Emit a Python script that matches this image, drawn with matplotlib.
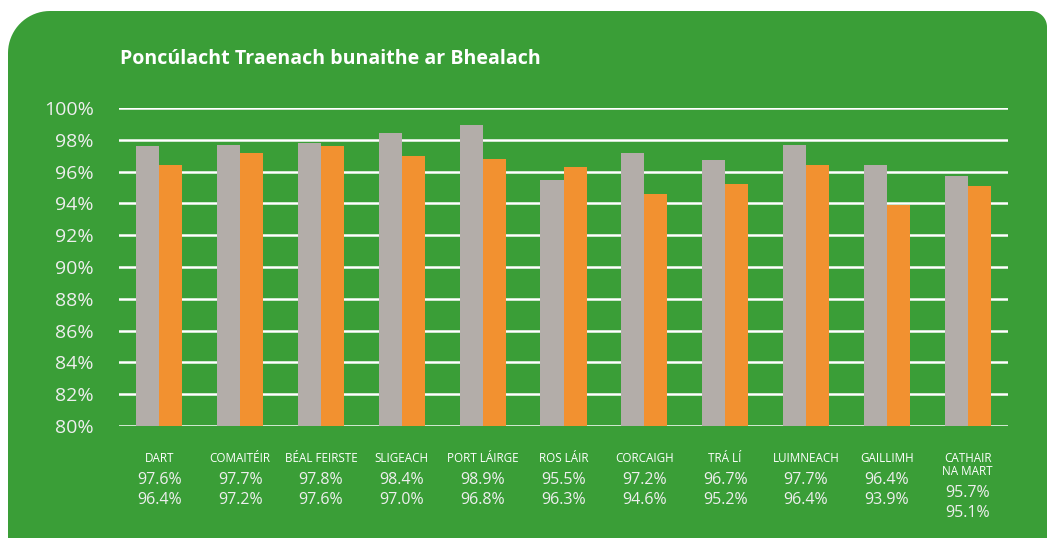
import numpy as np
import matplotlib.pyplot as plt
from matplotlib.path import Path
from matplotlib.patches import PathPatch

# data
stations = ["DART", "COMAITÉIR", "BÉAL FEIRSTE", "SLIGEACH", "PORT LÁIRGE", "ROS LÁIR",
            "CORCAIGH", "TRÁ LÍ", "LUIMNEACH", "GAILLIMH", "CATHAIR\nNA MART"]
grey_vals = [97.6, 97.7, 97.8, 98.4, 98.9, 95.5, 97.2, 96.7, 97.7, 96.4, 95.7]
orange_vals = [96.4, 97.2, 97.6, 97.0, 96.8, 96.3, 94.6, 95.2, 96.4, 93.9, 95.1]
yticks = [80, 82, 84, 86, 88, 90, 92, 94, 96, 98, 100]
title = "Poncúlacht Traenach bunaithe ar Bhealach"

GREEN = "#3a9e37"
GREY = "#b3ada9"
ORANGE = "#f29130"
W, H = 1048, 538

plt.rcParams['font.family'] = ['Open Sans', 'DejaVu Sans']

fig = plt.figure(figsize=(W / 100, H / 100), dpi=100, facecolor="white")

# green panel with a big rounded top-left corner and small top-right corner
def arc(cx, cy, r, a0, a1, n=20):
    t = np.linspace(np.radians(a0), np.radians(a1), n)
    return [(cx + r * np.cos(t_), cy + r * np.sin(t_)) for t_ in t]

x0, x1, ytop, ybot = 8, 1047, 11, 560
r1, r2 = 42, 16
pts = [(x0, ybot), (x0, ytop + r1)]
pts += arc(x0 + r1, ytop + r1, r1, 180, 270)
pts += [(x1 - r2, ytop)]
pts += arc(x1 - r2, ytop + r2, r2, 270, 360)
pts += [(x1, ybot), (x0, ybot)]
pts = [(px / W, 1 - py / H) for px, py in pts]
fig.patches.append(PathPatch(Path(pts), facecolor=GREEN, edgecolor="none",
                             transform=fig.transFigure, zorder=-1))

left, right, top, bottom = 119 / W, 1008 / W, 108 / H, 426 / H
ax = fig.add_axes([left, 1 - bottom, right - left, bottom - top])
ax.set_facecolor("none")
ax.set_zorder(2)

x = np.arange(len(stations))
bw = 0.285
ax.bar(x - bw / 2, np.array(grey_vals) - 80, bw, bottom=80, color=GREY, zorder=3)
ax.bar(x + bw / 2, np.array(orange_vals) - 80, bw, bottom=80, color=ORANGE, zorder=3)

ax.set_xlim(-0.5, len(stations) - 0.5)
ax.set_ylim(80, 100)
ax.set_yticks(yticks)
ax.set_yticklabels([f"{v}%" for v in yticks])
ax.tick_params(axis="y", length=0, pad=18, labelsize=14, labelcolor="#eeeeee")
ax.set_xticks([])
for s in ax.spines.values():
    s.set_visible(False)
ax.grid(axis="y", color="white", linewidth=1.8, zorder=1)

# category labels and values below axis
for i, name in enumerate(stations):
    nlines = name.count("\n")
    ax.annotate(name, (i, 0), xycoords=("data", "axes fraction"),
                xytext=(0, -32 - nlines * 7), textcoords="offset pixels",
                ha="center", va="center", fontsize=8.4, color="white",
                linespacing=1.0, annotation_clip=False)
    shift = nlines * 13
    ax.annotate(f"{grey_vals[i]:.1f}%", (i, 0), xycoords=("data", "axes fraction"),
                xytext=(0, -54 - shift), textcoords="offset pixels",
                ha="center", va="center", fontsize=11.5, color="#eeeeee",
                annotation_clip=False)
    ax.annotate(f"{orange_vals[i]:.1f}%", (i, 0), xycoords=("data", "axes fraction"),
                xytext=(0, -74 - shift), textcoords="offset pixels",
                ha="center", va="center", fontsize=11.5, color="#eeeeee",
                annotation_clip=False)

fig.text(120 / W, 1 - 59 / H, title, fontsize=14.1, fontweight="bold",
         color="white", ha="left", va="center")

fig.savefig("out.png", dpi=100, facecolor="white")
